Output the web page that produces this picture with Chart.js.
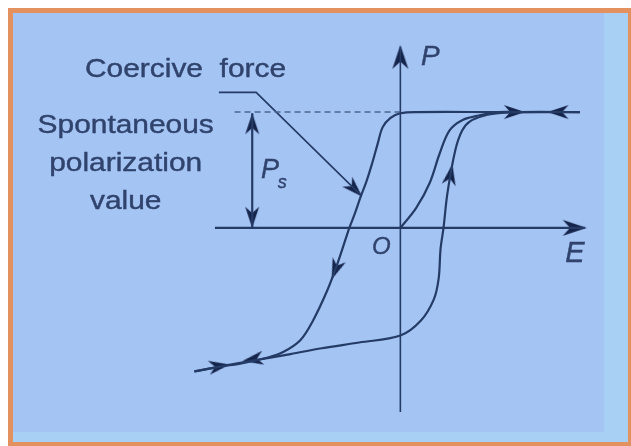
<!DOCTYPE html>
<html>
<head>
<meta charset="utf-8">
<script src="https://cdn.jsdelivr.net/npm/chart.js@4.4.1/dist/chart.umd.min.js"></script>
<style>
  html, body { margin: 0; padding: 0; background: #fff; }
</style>
</head>
<body>
<canvas id="loopChart" width="631" height="446"></canvas>
<script>
// Ferroelectric hysteresis loop, E on x, P on y (Ps = 1)
var descE = [1.83, 0.98, 0.18, 0.0, -0.10, -0.18, -0.23, -0.29, -0.35, -0.40, -0.47, -0.52, -0.59, -0.65, -0.75, -0.89, -1.02, -1.19, -1.35, -1.62, -1.85, -2.10];
var descP = [1.0, 1.0, 1.0, 0.99, 0.95, 0.87, 0.73, 0.55, 0.39, 0.28, 0.11, 0.0, -0.18, -0.33, -0.55, -0.80, -0.97, -1.07, -1.12, -1.17, -1.20, -1.24];

var ascE = [-2.10, -1.85, -1.53, -1.12, -0.80, -0.42, 0.0, 0.21, 0.34, 0.39, 0.41, 0.44, 0.48, 0.56, 0.63, 0.71, 0.86, 1.00, 1.21, 1.83];
var ascP = [-1.24, -1.20, -1.15, -1.09, -1.04, -0.99, -0.93, -0.80, -0.62, -0.44, -0.18, 0.0, 0.30, 0.67, 0.84, 0.92, 0.97, 0.99, 1.0, 1.0];

var initE = [0.0, 0.16, 0.30, 0.40, 0.50, 0.63, 0.80, 1.00, 1.21];
var initP = [0.0, 0.17, 0.39, 0.64, 0.84, 0.93, 0.97, 1.0, 1.0];

// axes, Ps marker, coercive force leader
var axisE = [-1.89, 1.88];
var axisP = [-1.59, 1.56];
var psE = -1.51;
var psTop = 0.99;
var dashE = [-1.69, 0.0];
var leaderE = [-1.85, -1.47, -0.40];
var leaderP = [1.17, 1.17, 0.28];

// arrow tips
var axisArrowE = [1.90, 0.0];
var axisArrowP = [0.0, 1.58];
var axisArrowRot = [90, 0];
var arrowE = [1.27, 1.50, -1.74, -1.61, -0.70, 0.53, -0.39, -1.51, -1.51];
var arrowP = [1.0, 1.0, -1.18, -1.15, -0.445, 0.55, 0.27, 0.99, 0.0];
var arrowRot = [90, 270, 81, 261, 201, 10, 135, 0, 180];

var INK = '#243b66';
var TEXT = '#30436c';

function pts(xs, ys) {
  return xs.map(function (x, i) { return { x: x, y: ys[i] }; });
}

function makeArrow(len, wid) {
  var s = Math.ceil(len * 2 + 4);
  var c = document.createElement('canvas');
  c.width = s; c.height = s;
  var g = c.getContext('2d');
  var m = s / 2;
  g.fillStyle = '#15244a';
  g.beginPath();
  g.moveTo(m, m);
  g.lineTo(m + wid / 2, m + len);
  g.lineTo(m, m + len * 0.7);
  g.lineTo(m - wid / 2, m + len);
  g.closePath();
  g.fill();
  return c;
}
var bigArrow = makeArrow(24, 16);
var smallArrow = makeArrow(21, 14);

var backdrop = {
  id: 'backdrop',
  beforeDraw: function (chart) {
    var c = chart.ctx;
    c.save();
    c.fillStyle = '#ffffff';
    c.fillRect(0, 0, chart.width, chart.height);
    c.fillStyle = '#e2915f';
    c.fillRect(8, 8, 623, 438);
    c.fillStyle = '#a4c4f4';
    c.fillRect(13, 13, 615, 429);
    c.fillStyle = '#a8cff4';
    c.fillRect(604, 13, 24, 429);
    c.fillRect(13, 432, 615, 10);
    c.restore();
  }
};

var labels = [
  { text: 'Coercive  force', x: -2.19, y: 1.30, font: '26px "Liberation Sans", Arial, sans-serif', stretch: 1.15, align: 'center' },
  { text: 'Spontaneous', x: -2.80, y: 0.815, font: '26px "Liberation Sans", Arial, sans-serif', stretch: 1.15, align: 'center' },
  { text: 'polarization', x: -2.80, y: 0.49, font: '26px "Liberation Sans", Arial, sans-serif', stretch: 1.15, align: 'center' },
  { text: 'value', x: -2.80, y: 0.16, font: '26px "Liberation Sans", Arial, sans-serif', stretch: 1.15, align: 'center' },
  { text: 'P', x: 0.21, y: 1.41, font: 'italic 28px "Liberation Sans", Arial, sans-serif', stretch: 1, align: 'left' },
  { text: 'O', x: -0.29, y: -0.227, font: 'italic 24px "Liberation Sans", Arial, sans-serif', stretch: 1, align: 'left' },
  { text: 'E', x: 1.68, y: -0.294, font: 'italic 29px "Liberation Sans", Arial, sans-serif', stretch: 1, align: 'left' },
  { text: 'P', x: -1.42, y: 0.43, font: 'italic 27px "Liberation Sans", Arial, sans-serif', stretch: 1, align: 'left' },
  { text: 's', x: -1.25, y: 0.345, font: 'italic 18px "Liberation Sans", Arial, sans-serif', stretch: 1, align: 'left' }
];

var textLayer = {
  id: 'textLayer',
  afterDatasetsDraw: function (chart) {
    var c = chart.ctx, sx = chart.scales.x, sy = chart.scales.y;
    c.save();
    c.fillStyle = TEXT;
    c.strokeStyle = TEXT;
    c.lineWidth = 0.4;
    c.textBaseline = 'alphabetic';
    labels.forEach(function (l) {
      c.save();
      c.translate(sx.getPixelForValue(l.x), sy.getPixelForValue(l.y));
      c.scale(l.stretch, 1);
      c.font = l.font;
      c.textAlign = l.align;
      c.fillText(l.text, 0, 0);
      c.strokeText(l.text, 0, 0);
      c.restore();
    });
    c.restore();
  }
};

function curve(data, w) {
  return { data: data, showLine: true, borderColor: INK, borderWidth: w || 2.2, pointRadius: 0, tension: 0.35, fill: false };
}
function straight(data, w) {
  return { data: data, showLine: true, borderColor: INK, borderWidth: w || 2.2, pointRadius: 0, tension: 0, fill: false };
}

var dash = straight(pts(dashE, [psTop + 0.01, psTop + 0.01]), 1.5);
dash.borderDash = [6, 4];
dash.borderColor = '#4d6590';

var chart = new Chart(document.getElementById('loopChart'), {
  type: 'scatter',
  data: {
    datasets: [
      straight(pts(axisE, [0, 0]), 2.2),
      straight(pts([0, 0], axisP), 1.6),
      dash,
      straight(pts([psE, psE], [0, psTop]), 2.2),
      straight(pts(leaderE, leaderP), 1.6),
      curve(pts(descE, descP)),
      curve(pts(ascE, ascP)),
      curve(pts(initE, initP)),
      { data: pts(axisArrowE, axisArrowP), showLine: false, pointStyle: bigArrow, pointRadius: 5, pointRotation: axisArrowRot },
      { data: pts(arrowE, arrowP), showLine: false, pointStyle: smallArrow, pointRadius: 5, pointRotation: arrowRot }
    ]
  },
  options: {
    responsive: false,
    animation: false,
    devicePixelRatio: 1,
    layout: { padding: 0 },
    events: [],
    scales: {
      x: { type: 'linear', min: -4.02, max: 2.29, display: false },
      y: { type: 'linear', min: -1.832, max: 1.916, display: false }
    },
    plugins: {
      legend: { display: false },
      tooltip: { enabled: false }
    }
  },
  plugins: [backdrop, textLayer]
});
</script>
</body>
</html>
